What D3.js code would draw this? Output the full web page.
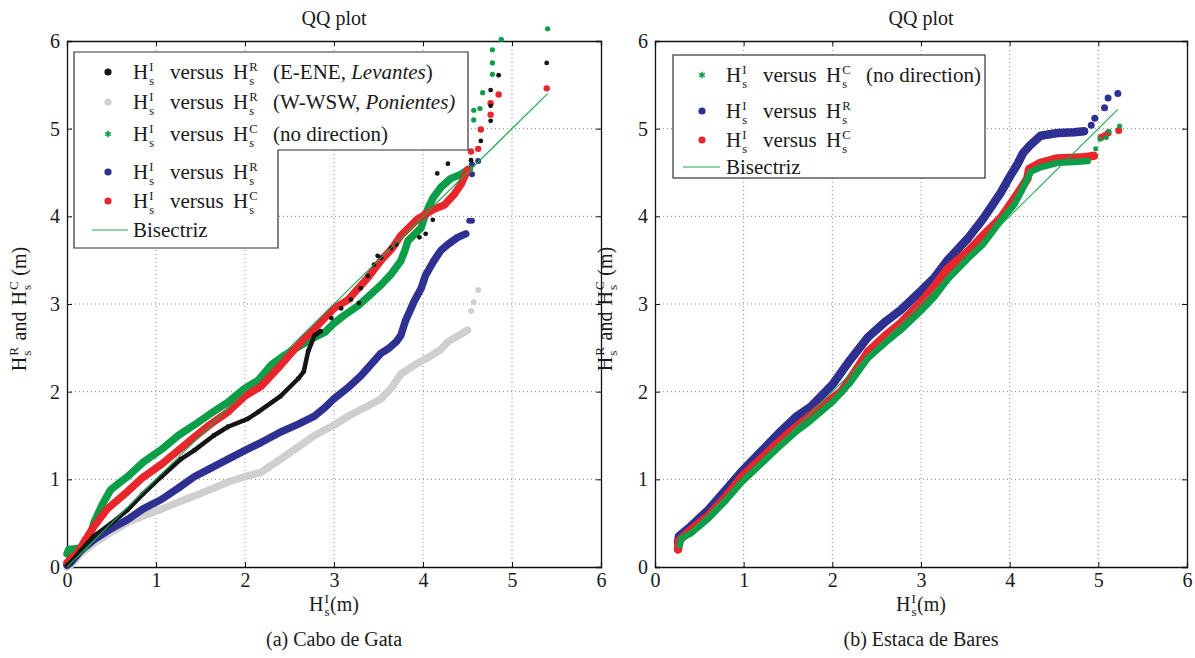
<!DOCTYPE html>
<html><head><meta charset="utf-8">
<script src="https://cdn.jsdelivr.net/npm/d3@7"></script>
<style>
body{margin:0;background:#fff}
</style>
</head><body>
<svg id="c" width="1195" height="658" font-family="Liberation Serif, Times New Roman, DejaVu Serif, serif"></svg>
<script>
// ---------- data ----------
const ticks = [0,1,2,3,4,5,6];
const tickLabels = ["0","1","2","3","4","5","6"];
const panelTitles = ["QQ plot","QQ plot"];
const captions = ["(a) Cabo de Gata","(b) Estaca de Bares"];

// Panel (a) Cabo de Gata
const aGrayBody = [[0,0],[0.04,0.02],[0.15,0.15],[0.3,0.27],[0.5,0.4],[0.68,0.51],[0.85,0.58],[1.06,0.66],[1.25,0.74],[1.43,0.81],[1.6,0.88],[1.81,0.97],[2.0,1.03],[2.18,1.08],[2.4,1.23],[2.6,1.37],[2.78,1.5],[3.0,1.62],[3.16,1.72],[3.35,1.82],[3.53,1.92],[3.65,2.05],[3.75,2.2],[3.9,2.3],[4.09,2.41],[4.2,2.48],[4.28,2.57],[4.4,2.64],[4.5,2.7]];
const aGrayTail = [[4.54,2.92],[4.57,3.02],[4.62,3.16]];
const aBlueBody = [[0,0.02],[0.04,0.05],[0.15,0.18],[0.3,0.31],[0.5,0.44],[0.68,0.54],[0.85,0.66],[1.06,0.77],[1.25,0.9],[1.43,1.03],[1.6,1.12],[1.81,1.23],[2.0,1.33],[2.18,1.42],[2.4,1.54],[2.6,1.63],[2.78,1.72],[2.9,1.82],[3.0,1.92],[3.15,2.04],[3.3,2.18],[3.45,2.35],[3.53,2.44],[3.61,2.49],[3.7,2.57],[3.75,2.64],[3.8,2.8],[3.83,2.87],[3.9,3.03],[3.98,3.18],[4.03,3.33],[4.12,3.49],[4.2,3.61],[4.28,3.68],[4.39,3.76],[4.48,3.8]];
const aBlueTail = [[4.52,3.95],[4.55,3.95],[4.55,4.48],[4.55,4.59],[4.62,4.63]];
const aGreenBody = [[0,0.15],[0.02,0.2],[0.19,0.22],[0.25,0.31],[0.3,0.5],[0.4,0.72],[0.49,0.88],[0.6,0.97],[0.68,1.03],[0.85,1.19],[1.06,1.34],[1.25,1.5],[1.43,1.62],[1.6,1.74],[1.81,1.88],[2.0,2.04],[2.15,2.13],[2.29,2.3],[2.45,2.42],[2.63,2.53],[2.78,2.62],[2.9,2.68],[3.0,2.78],[3.1,2.86],[3.27,2.98],[3.38,3.08],[3.53,3.22],[3.65,3.35],[3.75,3.49],[3.8,3.62],[3.83,3.72],[3.98,3.87],[4.01,3.97],[4.06,4.1],[4.12,4.22],[4.2,4.33],[4.31,4.43],[4.43,4.48],[4.52,4.54]];
const aGreenTail = [[4.57,5.1],[4.57,5.21],[4.64,5.23],[4.67,5.41],[4.78,5.62],[4.78,5.75],[4.78,5.9],[4.88,6.02],[5.4,6.14]];
const aRedBody = [[0,0.05],[0.05,0.1],[0.12,0.16],[0.2,0.3],[0.3,0.46],[0.45,0.66],[0.68,0.86],[0.85,1.02],[1.06,1.17],[1.25,1.33],[1.43,1.48],[1.6,1.62],[1.81,1.77],[2.0,1.95],[2.18,2.06],[2.4,2.3],[2.63,2.57],[2.78,2.72],[3.0,2.95],[3.16,3.05],[3.38,3.3],[3.53,3.5],[3.65,3.63],[3.75,3.78],[3.94,3.97],[4.12,4.08],[4.24,4.13],[4.35,4.25],[4.43,4.37],[4.5,4.53]];
const aRedTail = [[4.54,4.74],[4.62,4.77],[4.65,4.99],[4.76,5.16],[4.76,5.29],[4.85,5.39],[5.39,5.46]];
const aBlackBody = [[0,0.02],[0.04,0.05],[0.15,0.18],[0.3,0.35],[0.5,0.5],[0.68,0.65],[0.85,0.83],[1.06,1.03],[1.28,1.23],[1.43,1.33],[1.65,1.5],[1.81,1.6],[2.03,1.69],[2.15,1.77],[2.4,1.95],[2.6,2.15],[2.66,2.23],[2.71,2.46],[2.78,2.64],[2.85,2.69]];
const aBlackTail = [[2.97,2.84],[3.08,2.95],[3.19,3.05],[3.28,3.01],[3.3,3.18],[3.38,3.32],[3.45,3.45],[3.49,3.55],[3.53,3.53],[3.64,3.64],[3.7,3.68],[3.96,3.76],[4.03,3.8],[4.11,3.96],[4.16,4.49],[4.28,4.6],[4.54,4.64],[4.65,4.86],[4.76,5.09],[4.76,5.26],[4.76,5.44],[4.85,5.61],[5.39,5.75]];
const aBisect = [[0,0],[5.4,5.4]];

// Panel (b) Estaca de Bares
const bBlueBody = [[0.26,0.28],[0.27,0.35],[0.4,0.46],[0.6,0.65],[0.8,0.88],[0.97,1.08],[1.2,1.32],[1.4,1.53],[1.6,1.72],[1.76,1.83],[2.0,2.08],[2.2,2.36],[2.4,2.62],[2.6,2.8],[2.77,2.93],[3.0,3.15],[3.15,3.3],[3.3,3.5],[3.53,3.75],[3.7,3.97],[3.9,4.27],[4.0,4.45],[4.09,4.6],[4.15,4.72],[4.22,4.8],[4.35,4.92],[4.54,4.95],[4.73,4.96],[4.84,4.97]];
const bBlueTail = [[4.92,5.04],[4.96,5.12],[5.07,5.24],[5.11,5.35],[5.22,5.4]];
const bRedBody = [[0.26,0.2],[0.27,0.3],[0.4,0.42],[0.6,0.58],[0.8,0.8],[0.97,1.02],[1.2,1.24],[1.34,1.37],[1.5,1.52],[1.72,1.7],[1.84,1.8],[2.1,2.0],[2.25,2.22],[2.4,2.45],[2.6,2.64],[2.77,2.78],[3.0,3.02],[3.15,3.2],[3.3,3.4],[3.53,3.6],[3.7,3.78],[3.9,3.98],[4.05,4.2],[4.13,4.32],[4.2,4.43],[4.22,4.54],[4.35,4.61],[4.54,4.66],[4.8,4.67],[4.95,4.69]];
const bRedTail = [[5.03,4.9],[5.07,4.92],[5.11,4.95],[5.23,4.98]];
const bGreenBody = [[0.28,0.25],[0.3,0.33],[0.4,0.38],[0.6,0.55],[0.8,0.76],[0.97,0.96],[1.2,1.18],[1.4,1.37],[1.6,1.55],[1.72,1.64],[2.02,1.9],[2.2,2.1],[2.4,2.38],[2.6,2.56],[2.77,2.7],[3.0,2.92],[3.15,3.08],[3.3,3.28],[3.53,3.52],[3.7,3.68],[3.9,3.95],[4.05,4.13],[4.13,4.28],[4.24,4.51],[4.35,4.56],[4.54,4.61],[4.73,4.62],[4.88,4.63]];
const bGreenTail = [[4.97,4.77],[5.02,4.88],[5.09,4.9],[5.12,4.97],[5.24,5.03]];
const bBisect = [[0.25,0.25],[5.22,5.22]];

// ---------- colours / font ----------
const C = {black:"#151515", gray:"#cfcfcf", green:"#0b9e48", blue:"#2e3192", red:"#e8262b", line:"#1aa84f"};
const FONT = "'Liberation Serif', 'Times New Roman', 'DejaVu Serif', serif";
const LEG = 21;

const svg = d3.select("#c");

function txt(parent){
  return parent.append("text").attr("font-family", FONT).style("font-family", FONT).attr("fill", "#1a1a1a");
}

function rich(parent, x, y, parts, size, anchor, sc){
  sc = sc || 0.66;
  const g = parent.append("g");
  let cx = 0;
  parts.forEach(p => {
    if (p.gap !== undefined) { cx += p.gap; return; }
    if (p.at !== undefined) { cx = p.at; return; }
    if (p.t !== undefined) {
      const t = txt(g).attr("x", cx).attr("y", 0).style("font-size", size + "px")
        .style("font-style", p.i ? "italic" : "normal").text(p.t);
      cx += t.node().getComputedTextLength();
    } else {
      const s = size * sc;
      const a = txt(g).attr("x", cx + 1).attr("y", -size * 0.38).style("font-size", s + "px").text(p.sup);
      const b = txt(g).attr("x", cx + 1).attr("y", size * 0.27).style("font-size", s + "px").text(p.sub);
      cx += Math.max(a.node().getComputedTextLength(), b.node().getComputedTextLength()) + 1.5;
    }
  });
  const ox = anchor === "middle" ? -cx / 2 : 0;
  g.attr("transform", `translate(${x + ox},${y})`);
  return g;
}

function panel(opt){
  const x = d3.scaleLinear().domain([0,6]).range([opt.x0, opt.x1]);
  const y = d3.scaleLinear().domain([0,6]).range([567, 41]);
  const g = svg.append("g");
  const inner = ticks.filter(d => d > 0 && d < 6);
  g.selectAll(null).data(inner).join("line")
    .attr("x1", d => x(d)).attr("x2", d => x(d)).attr("y1", y(0)).attr("y2", y(6))
    .attr("stroke", "#8a8a8a").attr("stroke-width", 1).attr("stroke-dasharray", "1,3");
  g.selectAll(null).data(inner).join("line")
    .attr("y1", d => y(d)).attr("y2", d => y(d)).attr("x1", x(0)).attr("x2", x(6))
    .attr("stroke", "#8a8a8a").attr("stroke-width", 1).attr("stroke-dasharray", "1,3");

  const fmt = d => tickLabels[ticks.indexOf(d)];
  const ab = g.append("g").attr("transform", `translate(0,${y(0)})`)
    .call(d3.axisBottom(x).tickValues(ticks).tickSize(-5).tickPadding(6).tickFormat(fmt));
  const al = g.append("g").attr("transform", `translate(${x(0)},0)`)
    .call(d3.axisLeft(y).tickValues(ticks).tickSize(-5).tickPadding(7).tickFormat(fmt));
  const at = g.append("g").attr("transform", `translate(0,${y(6)})`)
    .call(d3.axisTop(x).tickValues(ticks).tickSize(-5).tickFormat(""));
  const ar = g.append("g").attr("transform", `translate(${x(6)},0)`)
    .call(d3.axisRight(y).tickValues(ticks).tickSize(-5).tickFormat(""));
  [ab, al, at, ar].forEach(a => {
    a.attr("font-family", FONT).attr("font-size", 20);
    a.select(".domain").attr("stroke", "#111").attr("stroke-width", 1.3);
    a.selectAll(".tick line").attr("stroke", "#111");
    a.selectAll("text").attr("font-family", FONT).style("font-family", FONT).style("font-size", "20px").attr("fill", "#1a1a1a");
  });

  const dataG = g.append("g");
  opt.series.forEach(s => {
    if (s.body.length) {
      dataG.append("path").datum(s.body)
        .attr("d", d3.line().x(d => x(d[0])).y(d => y(d[1])))
        .attr("fill", "none").attr("stroke", s.color).attr("stroke-width", s.w)
        .attr("stroke-linejoin", "round").attr("stroke-linecap", "round");
    }
    dataG.selectAll(null).data(s.body.concat(s.tail)).join("circle")
      .attr("cx", d => x(d[0])).attr("cy", d => y(d[1])).attr("r", s.r).attr("fill", s.color);
  });
  dataG.append("path").datum(opt.bisect)
    .attr("d", d3.line().x(d => x(d[0])).y(d => y(d[1])))
    .attr("stroke", C.line).attr("stroke-width", 1.1).attr("fill", "none");

  const cxm = (opt.x0 + opt.x1) / 2;
  txt(g).attr("x", cxm).attr("y", 25).attr("text-anchor", "middle").style("font-size", "20px").text(opt.title);
  txt(g).attr("x", cxm).attr("y", 646).attr("text-anchor", "middle").style("font-size", "20px").text(opt.caption);
  rich(g, cxm, 611, [{t:"H"},{sup:"I", sub:"s"},{t:"(m)"}], 20, "middle");
  const yl = g.append("g").attr("transform", `translate(${opt.ylx},309) rotate(-90)`);
  rich(yl, 0, 0, [{t:"H"},{sup:"R", sub:"s"},{gap:6},{t:"and"},{gap:6},{t:"H"},{sup:"C", sub:"s"},{gap:5},{t:"(m)"}], 20, "middle");
  return {g, x, y};
}

// ---------- panel a ----------
panel({x0:67, x1:601, title:panelTitles[0], caption:captions[0], ylx:26,
  bisect:aBisect,
  series:[
    {body:aGrayBody, tail:aGrayTail, color:C.gray, w:7.5, r:3},
    {body:aBlueBody, tail:aBlueTail, color:C.blue, w:7.5, r:3},
    {body:aGreenBody, tail:aGreenTail, color:C.green, w:7.5, r:2.6},
    {body:aRedBody, tail:aRedTail, color:C.red, w:7.5, r:3.2},
    {body:aBlackBody, tail:aBlackTail, color:C.black, w:4.5, r:2.4}
  ]});

const la = svg.append("g");
la.append("path").attr("d", "M74,52 H468 V150 H278 V248 H74 Z")
  .attr("fill", "#fff").attr("stroke", "#333").attr("stroke-width", 1.2);
const legA = [
  {mk:"dot", color:C.black, y:72, tail:[{t:"(E-ENE,\u00a0"},{t:"Levantes", i:true},{t:")"}], sup2:"R"},
  {mk:"dot", color:C.gray, y:102, tail:[{t:"(W-WSW,\u00a0"},{t:"Ponientes)", i:true}], sup2:"R"},
  {mk:"star", color:C.green, y:134, tail:[{t:"(no direction)"}], sup2:"C"},
  {mk:"dot", color:C.blue, y:172, tail:[], sup2:"R"},
  {mk:"dot", color:C.red, y:201, tail:[], sup2:"C"}
];
function legendRows(g, rows, mx, tx){
  rows.forEach(r => {
    if (r.mk === "dot") g.append("circle").attr("cx", mx).attr("cy", r.y).attr("r", 3.6).attr("fill", r.color);
    else g.append("path").attr("transform", `translate(${mx},${r.y})`)
      .attr("d", d3.symbol(d3.symbolAsterisk, 30)()).attr("stroke", r.color).attr("stroke-width", 1.6).attr("fill", "none");
    rich(g, tx, r.y + 7, [{t:"H"},{sup:"I", sub:"s"},{at:37},{t:"versus"},{at:100},{t:"H"},{sup:r.sup2, sub:"s"},{at:140}].concat(r.tail), LEG, "start", 0.6);
  });
}
legendRows(la, legA, 108, 133);
la.append("line").attr("x1", 92).attr("x2", 128).attr("y1", 230).attr("y2", 230).attr("stroke", C.line).attr("stroke-width", 1.2);
txt(la).attr("x", 133).attr("y", 237).style("font-size", LEG + "px").text("Bisectriz");

// ---------- panel b ----------
panel({x0:655, x1:1187, title:panelTitles[1], caption:captions[1], ylx:612,
  bisect:bBisect,
  series:[
    {body:bBlueBody, tail:bBlueTail, color:C.blue, w:8.5, r:3.5},
    {body:bRedBody, tail:bRedTail, color:C.red, w:8.5, r:3.5},
    {body:bGreenBody, tail:bGreenTail, color:C.green, w:6.5, r:2.5}
  ]});
const lb = svg.append("g");
lb.append("rect").attr("x", 673).attr("y", 55).attr("width", 312).attr("height", 123)
  .attr("fill", "#fff").attr("stroke", "#333").attr("stroke-width", 1.2);
legendRows(lb, [
  {mk:"star", color:C.green, y:75, tail:[{t:"(no direction)"}], sup2:"C"},
  {mk:"dot", color:C.blue, y:111, tail:[], sup2:"R"},
  {mk:"dot", color:C.red, y:140, tail:[], sup2:"C"}
], 702, 726);
lb.append("line").attr("x1", 683).attr("x2", 720).attr("y1", 167).attr("y2", 167).attr("stroke", C.line).attr("stroke-width", 1.2);
txt(lb).attr("x", 726).attr("y", 174).style("font-size", LEG + "px").text("Bisectriz");
</script>
</body></html>
